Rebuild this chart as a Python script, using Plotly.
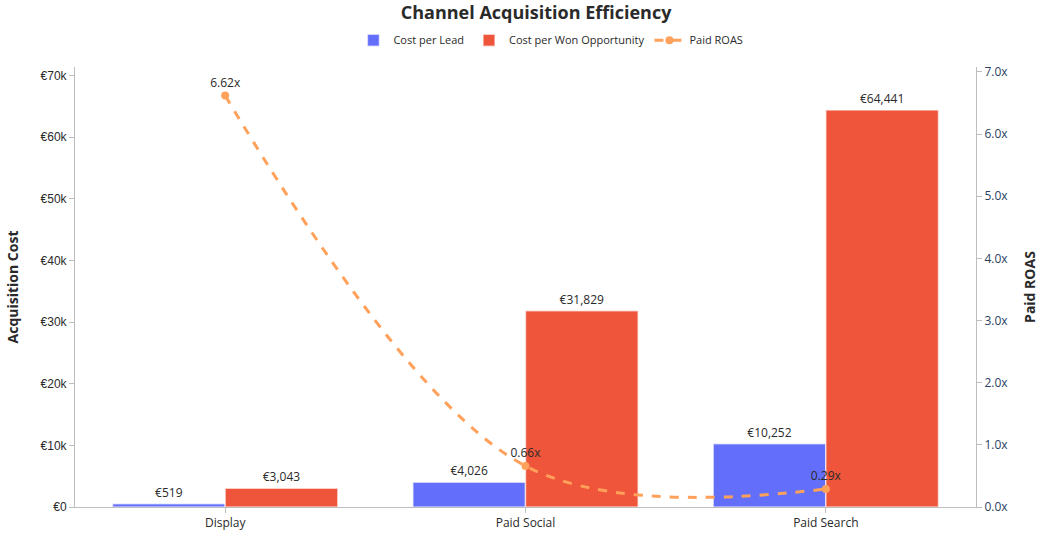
import plotly.graph_objects as go

channels = ["Display", "Paid Social", "Paid Search"]
cost_per_lead = [519, 4026, 10252]
cost_per_won_opp = [3043, 31829, 64441]
paid_roas = [6.62, 0.66, 0.29]

fig = go.Figure()
fig.add_trace(go.Bar(
    x=channels, y=cost_per_lead, name="Cost per Lead",
    marker=dict(color="#636EFA", line=dict(color="rgba(255,255,255,0.6)", width=1.5)),
    text=[f"€{v:,}" for v in cost_per_lead], textposition="outside",
    textfont=dict(size=12, color="#2a2a2a"), cliponaxis=False,
))
fig.add_trace(go.Bar(
    x=channels, y=cost_per_won_opp, name="Cost per Won Opportunity",
    marker=dict(color="#EF553B", line=dict(color="rgba(255,255,255,0.6)", width=1.5)),
    text=[f"€{v:,}" for v in cost_per_won_opp], textposition="outside",
    textfont=dict(size=12, color="#2a2a2a"), cliponaxis=False,
))
fig.add_trace(go.Scatter(
    x=channels, y=paid_roas, name="Paid ROAS", yaxis="y2",
    mode="lines+markers+text",
    line=dict(color="#FFA15A", width=3, dash="dash", shape="spline"),
    marker=dict(size=8, color="#FFA15A"),
    text=[f"{v:.2f}x" for v in paid_roas], textposition="top center",
    textfont=dict(size=12, color="#2a2a2a"), cliponaxis=False,
))

fig.update_layout(
    width=1043, height=543,
    template="plotly_white",
    font=dict(family="Open Sans", size=12, color="#2a2a2a"),
    title=dict(text="<b>Channel Acquisition Efficiency</b>", x=0.514, xanchor="center",
               y=0.976, yanchor="middle", font=dict(size=18, color="#2a2a2a")),
    legend=dict(orientation="h", x=0.309, xanchor="left", y=1.028, yanchor="bottom",
                font=dict(size=11), bgcolor="rgba(0,0,0,0)"),
    margin=dict(l=75, r=67, t=67, b=36, autoexpand=False),
    barmode="group", bargap=0.25, bargroupgap=0,
    plot_bgcolor="white", paper_bgcolor="white",
    xaxis=dict(showgrid=False, showline=True, linecolor="#bdbdbd", ticks="outside",
               tickcolor="#bdbdbd", ticklen=5, tickfont=dict(size=12), automargin=False),
    yaxis=dict(title=dict(text="<b>Acquisition Cost</b>", font=dict(size=14), standoff=18),
               range=[0, 71400], tickvals=[0, 10000, 20000, 30000, 40000, 50000, 60000, 70000],
               ticktext=["€0", "€10k", "€20k", "€30k", "€40k", "€50k", "€60k", "€70k"],
               showgrid=False, zeroline=False, showline=True, linecolor="#bdbdbd",
               ticks="outside", tickcolor="#bdbdbd", ticklen=5, automargin=False,
               tickfont=dict(family="Liberation Sans", size=12)),
    yaxis2=dict(title=dict(text="<b>Paid ROAS</b>", font=dict(size=14), standoff=17),
                overlaying="y", side="right", range=[0, 7.08], dtick=1, tickformat=".1f",
                ticksuffix="x", showgrid=False, zeroline=False, showline=True, automargin=False,
                linecolor="#bdbdbd", ticks="outside", tickcolor="#bdbdbd", ticklen=5,
                tickfont=dict(size=12, color="#2a3f5f")),
)

fig.write_html("out.html", config={"displayModeBar": False},
               post_script="document.body.style.margin='0';")
